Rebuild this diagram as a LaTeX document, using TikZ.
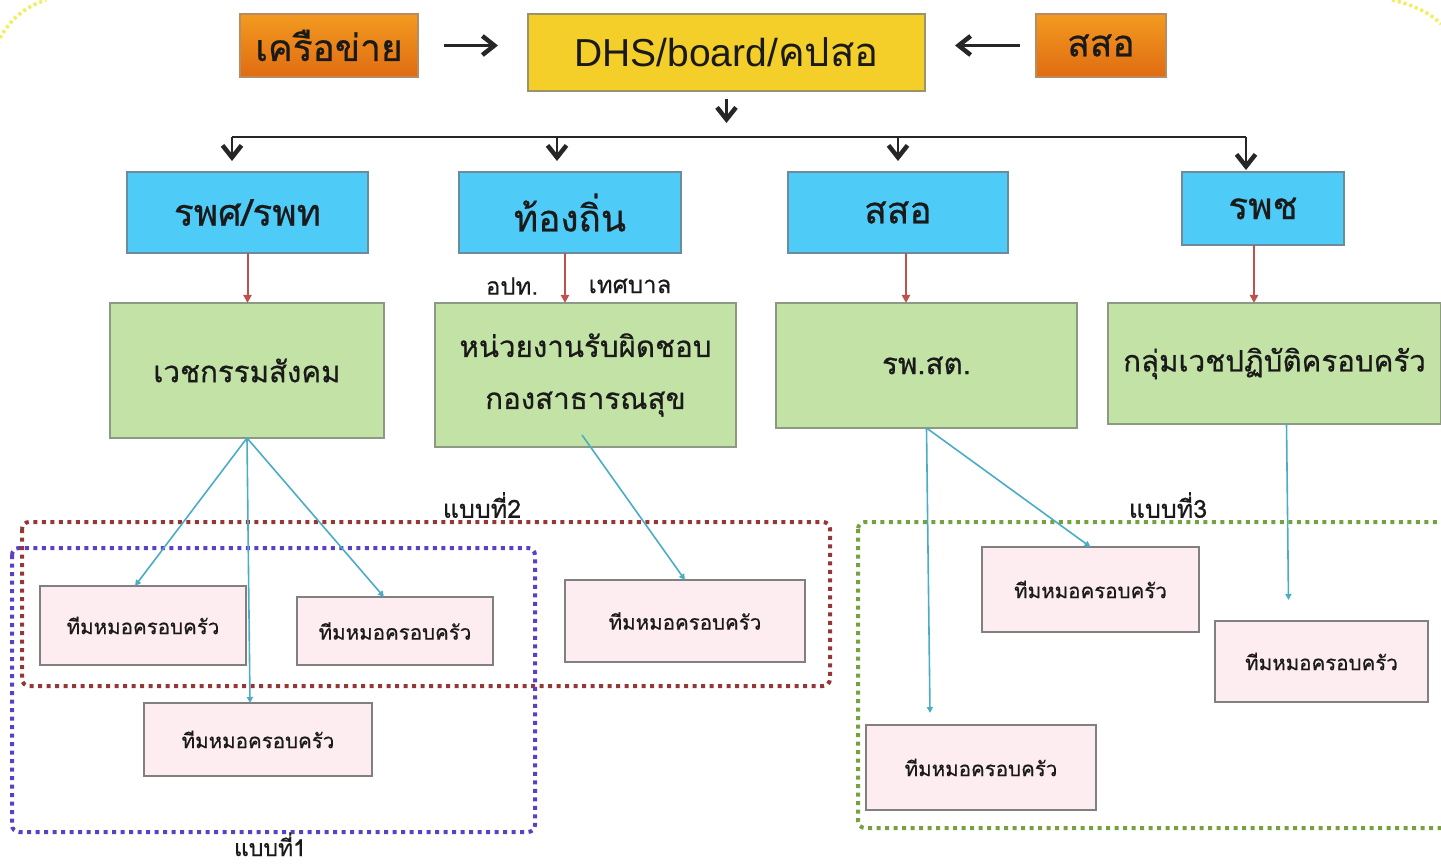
\documentclass[tikz,border=0pt]{standalone}
\usepackage{fontspec}
\newfontfamily\thai[Script=Thai,FakeBold=0.6]{Loma}
\newfontfamily\thaireg[Script=Thai]{Loma}
\newfontfamily\latin{Liberation Sans}
\usetikzlibrary{arrows.meta}
\definecolor{txt}{HTML}{1A1A1A}
\definecolor{orangetop}{HTML}{F39A20}
\definecolor{orangebot}{HTML}{E06C12}
\definecolor{orangeborder}{HTML}{B98B62}
\definecolor{yellowfill}{HTML}{F4CF2A}
\definecolor{yellowborder}{HTML}{9C9468}
\definecolor{bluefill}{HTML}{4FCBF7}
\definecolor{blueborder}{HTML}{6C8C9C}
\definecolor{greenfill}{HTML}{C3E2A5}
\definecolor{greenborder}{HTML}{8C9A84}
\definecolor{pinkfill}{HTML}{FDEDF0}
\definecolor{pinkborder}{HTML}{808080}
\definecolor{redline}{HTML}{C0504D}
\definecolor{cyanline}{HTML}{4BACC6}
\definecolor{grpred}{HTML}{953735}
\definecolor{grppurple}{HTML}{5B3FC4}
\definecolor{grpgreen}{HTML}{77A040}
\definecolor{deco}{HTML}{F2EE5A}
\tikzset{
 base/.style={rectangle, inner sep=0pt, outer sep=0pt, line width=1.5pt, text=txt, align=center},
 orangebox/.style={base, draw=orangeborder, top color=orangetop, bottom color=orangebot, font=\thai\fontsize{37}{40}\selectfont},
 yellowbox/.style={base, draw=yellowborder, fill=yellowfill, font=\fontsize{39}{42}\selectfont},
 bluebox/.style={base, draw=blueborder, fill=bluefill, font=\thai\fontsize{37}{40}\selectfont},
 greenbox/.style={base, draw=greenborder, fill=greenfill, font=\thai\fontsize{29.5}{52}\selectfont},
 pinkbox/.style={base, draw=pinkborder, fill=pinkfill, font=\thai\fontsize{20.5}{24}\selectfont},
 blackline/.style={line width=2.8pt, draw=black!85},
 blackarrow/.style={blackline, -{Straight Barb[length=12pt,width=19pt,line width=4.5pt]}},
 redarrow/.style={line width=2pt, draw=redline, -{Triangle[length=8pt,width=8pt]}},
 cyanarrow/.style={line width=1.6pt, draw=cyanline, -{Triangle[length=6pt,width=6pt]}},
 grp/.style={line width=4pt, dash pattern=on 4pt off 4.5pt, rounded corners=7pt},
 grplabel/.style={font=\thai\fontsize{25}{28}\selectfont, text=txt, inner sep=0pt},
 sublabel/.style={font=\thai\fontsize{24}{26}\selectfont, text=txt, inner sep=0pt},
}
\begin{document}
\begin{tikzpicture}[x=1pt,y=-1pt]
\useasboundingbox (0,0) rectangle (1441,866);
% decorative slide border corners
\draw[deco, line width=3.5pt, dash pattern=on 3pt off 3pt] (0,38) .. controls (10,20) and (24,7) .. (46,0);
\draw[deco, line width=3.5pt, dash pattern=on 3pt off 3pt] (1392,0) .. controls (1414,5) and (1430,13) .. (1441,24);

% top row
\node[orangebox, minimum width=178pt, minimum height=63pt] (net) at (329,45.5) {เครือข่าย};
\node[yellowbox, minimum width=397pt, minimum height=77pt] (dhs) at (726.5,52.5) {{\latin DHS/board/}{\thaireg\fontsize{40}{42}\selectfont คปสอ}};
\node[orangebox, minimum width=130pt, minimum height=63pt] (ssotop) at (1101,45.5) {สสอ};

% blue row
\node[bluebox, minimum width=241pt, minimum height=81pt] (b1) at (247.5,212.5) {รพศ/รพท};
\node[bluebox, minimum width=222pt, minimum height=81pt] (b2) at (570,212.5) {ท้องถิ่น};
\node[bluebox, minimum width=220pt, minimum height=81pt] (b3) at (898,212.5) {สสอ};
\node[bluebox, minimum width=162pt, minimum height=73pt] (b4) at (1263,208.5) {รพช};

% green row
\node[greenbox, minimum width=274pt, minimum height=135pt] (g1) at (247,370.5) {เวชกรรมสังคม};
\node[greenbox, minimum width=301pt, minimum height=144pt] (g2) at (585.5,375) {หน่วยงานรับผิดชอบ\\กองสาธารณสุข};
\node[greenbox, minimum width=301pt, minimum height=125pt] (g3) at (926.5,365.5) {รพ.สต.};
\node[greenbox, minimum width=333pt, minimum height=121pt] (g4) at (1274.5,363.5) {กลุ่มเวชปฏิบัติครอบครัว};

% labels on the local-government link
\node[sublabel] (lao) at (512,286) {อปท.};
\node[sublabel] (lmun) at (630,286) {เทศบาล};

% group frames
\draw[grp, draw=grpred] (22,522) rectangle (830,686);
\draw[grp, draw=grppurple] (12,548) rectangle (535,832);
\draw[grp, draw=grpgreen] (858,522) rectangle (1470,828);
\node[grplabel] (l2) at (482,505) {แบบที่2};
\node[grplabel, font=\thai\fontsize{23}{26}\selectfont, anchor=base] (l1) at (270,856) {แบบที่1};
\node[grplabel] (l3) at (1168,505) {แบบที่3};

% pink team boxes
\node[pinkbox, minimum width=206pt, minimum height=79pt] (p1) at (143,625.5) {ทีมหมอครอบครัว};
\node[pinkbox, minimum width=196pt, minimum height=68pt] (p2) at (395,631) {ทีมหมอครอบครัว};
\node[pinkbox, minimum width=228pt, minimum height=73pt] (p3) at (258,739.5) {ทีมหมอครอบครัว};
\node[pinkbox, minimum width=240pt, minimum height=82pt] (p4) at (685,621) {ทีมหมอครอบครัว};
\node[pinkbox, minimum width=217pt, minimum height=85pt] (p5) at (1090.5,589.5) {ทีมหมอครอบครัว};
\node[pinkbox, minimum width=213pt, minimum height=81pt] (p6) at (1321.5,661.5) {ทีมหมอครอบครัว};
\node[pinkbox, minimum width=230pt, minimum height=85pt] (p7) at (981,767.5) {ทีมหมอครอบครัว};

% black arrows at the top
\draw[blackarrow, shorten <=26pt, shorten >=30pt] (net.east) -- (net.east -| dhs.west);
\draw[blackarrow, shorten <=16pt, shorten >=30pt] (ssotop.west) -- (ssotop.west -| dhs.east);
\draw[blackarrow] ([yshift=-8pt]dhs.south) -- ([yshift=-32pt]dhs.south);
\coordinate (bus1) at (232,137);
\coordinate (bus4) at (1246,137);
\draw[blackline] (bus1) -- (bus4);
\draw[blackarrow] (bus1) -- ([xshift=-15.5pt,yshift=11pt]b1.north);
\draw[blackarrow] ([xshift=-13pt]b2.north |- bus1) -- ([xshift=-13pt,yshift=11pt]b2.north);
\draw[blackarrow] (b3.north |- bus1) -- ([yshift=11pt]b3.north);
\draw[blackarrow] (bus4) -- ([xshift=-17pt,yshift=2pt]b4.north);

% red arrows
\draw[redarrow] (b1.south) -- (b1.south |- g1.north);
\draw[redarrow] ([xshift=-5pt]b2.south) -- ([xshift=-20.5pt]g2.north);
\draw[redarrow] ([xshift=8pt]b3.south) -- ([xshift=-20.5pt]g3.north);
\draw[redarrow] ([xshift=-9pt]b4.south) -- ([xshift=-20.5pt]g4.north);

% cyan arrows
\draw[cyanarrow] (g1.south) -- ([xshift=-8pt]p1.north);
\draw[cyanarrow] (g1.south) -- ([xshift=-8pt]p3.north);
\draw[cyanarrow] (g1.south) -- ([xshift=-11pt]p2.north);
\draw[cyanarrow] ([xshift=-3.5pt,yshift=12pt]g2.south) -- (p4.north);
\draw[cyanarrow] (g3.south) -- ([xshift=-51pt,yshift=12pt]p7.north);
\draw[cyanarrow] (g3.south) -- (p5.north);
\draw[cyanarrow] ([xshift=12pt]g4.south) -- ([xshift=-33pt,yshift=21pt]p6.north);
\end{tikzpicture}
\end{document}
